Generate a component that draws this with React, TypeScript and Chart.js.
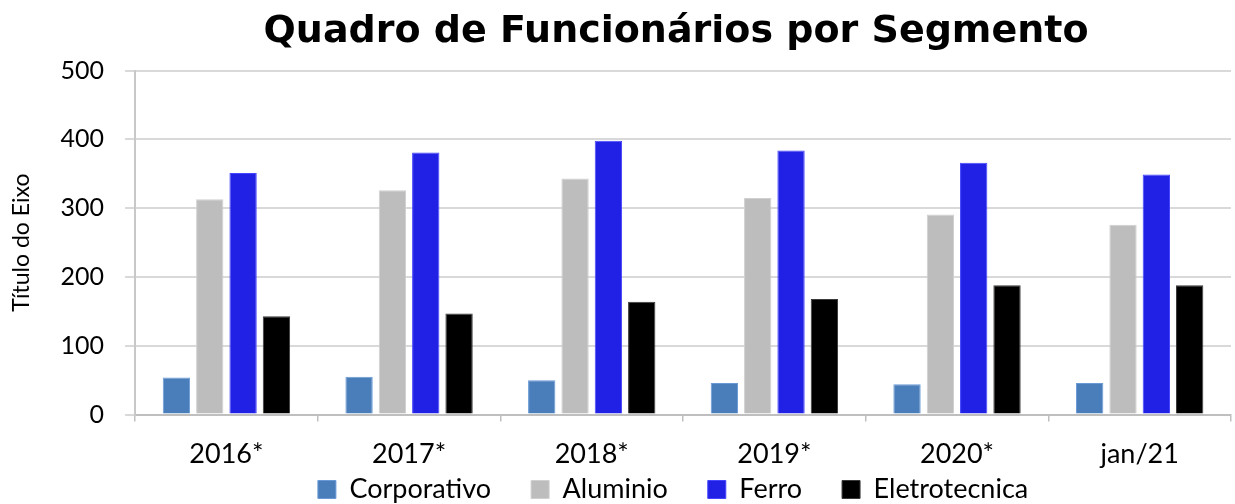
import React, { useEffect, useRef } from "react";
import { Chart, registerables } from "chart.js";

Chart.register(...registerables);

const categories = ["2016*", "2017*", "2018*", "2019*", "2020*", "jan/21"];
const corporativo = [54, 55, 50, 46, 44, 46];
const aluminio = [313, 326, 343, 315, 291, 276];
const ferro = [351, 381, 398, 384, 366, 349];
const eletrotecnica = [143, 147, 164, 168, 188, 188];
const yTicks = [0, 100, 200, 300, 400, 500];

const FONT = "Lato";
const LEGEND_PAD = 40;
const LEGEND_H = 18;
const LEGEND_ROW_TOP = 476;
const LEGEND_SHIFT_X = -10;
const TITLE_SHIFT_X = -7;

// Keep wide horizontal spacing between legend items without a tall legend box
const legendSqueeze = {
  id: "legendSqueeze",
  beforeLayout(chart: any) {
    const lg = chart.legend;
    if (lg && !lg.__patched) {
      const orig = lg.fit.bind(lg);
      lg.fit = function () {
        orig();
        this.height = LEGEND_H;
      };
      lg.__patched = true;
    }
  },
  afterLayout(chart: any) {
    const lg = chart.legend;
    if (lg) {
      lg.top = LEGEND_ROW_TOP - LEGEND_PAD;
      lg.left += LEGEND_SHIFT_X;
      lg.right += LEGEND_SHIFT_X;
    }
    const tb = chart.titleBlock;
    if (tb) {
      tb.left += TITLE_SHIFT_X;
      tb.right += TITLE_SHIFT_X;
    }
  },
};

export default function App() {
  const ref = useRef<HTMLCanvasElement | null>(null);
  useEffect(() => {
    document.body.style.margin = "0";
    const ctx = ref.current!;
    const common = { categoryPercentage: 0.73, barPercentage: 0.82, borderWidth: 1 };
    const chart = new Chart(ctx, {
      type: "bar",
      data: {
        labels: categories,
        datasets: [
          { label: "Corporativo", data: corporativo, backgroundColor: "#4a7ebb", borderColor: "#6a9ad6", ...common },
          { label: "Aluminio", data: aluminio, backgroundColor: "#bdbdbd", borderColor: "#d0d0d0", ...common },
          { label: "Ferro", data: ferro, backgroundColor: "#2121e6", borderColor: "#4545ff", ...common },
          { label: "Eletrotecnica", data: eletrotecnica, backgroundColor: "#000000", borderColor: "#3a3a3a", ...common },
        ],
      },
      plugins: [legendSqueeze],
      options: {
        animation: false,
        responsive: true,
        maintainAspectRatio: false,
        layout: { padding: { left: 4, right: 4, top: 9, bottom: 0 } },
        plugins: {
          title: {
            display: true,
            text: "Quadro de Funcionários por Segmento",
            fullSize: false,
            color: "#000",
            font: { family: "DejaVu Sans", size: 38, weight: "bold" },
            padding: { top: 0, bottom: 16 },
          },
          legend: {
            position: "bottom",
            fullSize: false,
            labels: {
              color: "#000",
              font: { family: FONT, size: 27 },
              boxWidth: 18,
              boxHeight: 18,
              padding: LEGEND_PAD,
              useBorderRadius: false,
            },
          },
          tooltip: { enabled: false },
        },
        scales: {
          x: {
            grid: { display: true, drawOnChartArea: false, color: "#bfbfbf", tickLength: 7, lineWidth: 1.5 },
            border: { display: true, color: "#bfbfbf", width: 2 },
            ticks: { color: "#000", font: { family: FONT, size: 27 }, padding: 16 },
          },
          y: {
            min: 0,
            max: 500,
            afterBuildTicks: (axis: any) => {
              axis.ticks = yTicks.map((v) => ({ value: v }));
            },
            grid: { color: "#d9d9d9", lineWidth: 2, tickLength: 10 },
            border: { display: true, color: "#c8c8c8", width: 2 },
            ticks: { color: "#000", font: { family: FONT, size: 25 }, padding: 21 },
            title: {
              display: true,
              text: "Título do Eixo",
              color: "#000",
              font: { family: FONT, size: 23 },
              padding: { top: 4, bottom: 4 },
            },
          },
        },
      },
    });
    return () => chart.destroy();
  }, []);
  return (
    <div style={{ width: 1235, height: 504, position: "relative" }}>
      <canvas ref={ref} />
    </div>
  );
}
